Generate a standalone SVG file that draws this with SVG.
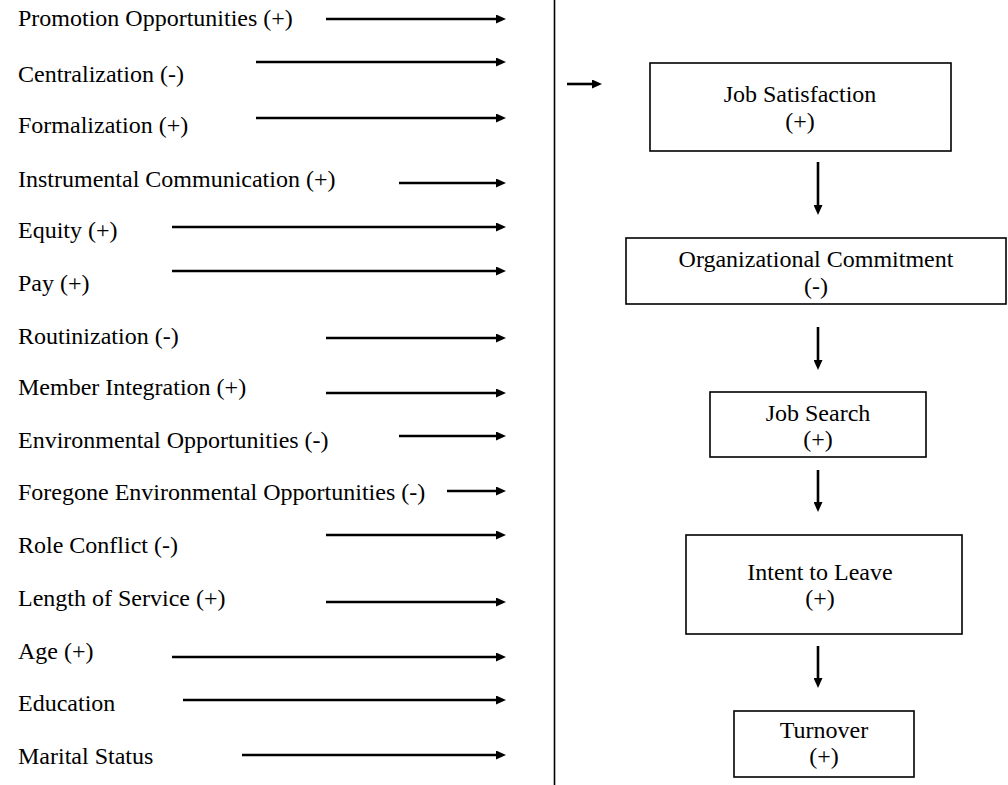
<svg xmlns="http://www.w3.org/2000/svg" width="1008" height="785" viewBox="0 0 1008 785">
<defs>
<style>
text{font-family:"Liberation Serif","Times New Roman",serif;font-size:24px;fill:#000}
.c{text-anchor:middle}
.ln{stroke:#000;stroke-width:2.6;fill:none}
.box{fill:#fff;stroke:#000;stroke-width:1.6}
</style>
<marker id="ah" markerUnits="userSpaceOnUse" viewBox="0 0 10 9" refX="0" refY="4.5" markerWidth="10" markerHeight="9" orient="auto">
<path d="M0,0 L10,4.5 L0,9 z" fill="#000"/>
</marker>
</defs>
<rect width="1008" height="785" fill="#fff"/>
<g id="divider"><line x1="554.5" y1="0" x2="554.5" y2="785" stroke="#000" stroke-width="1.6"/></g>
<g id="factors">
<text x="18" y="26">Promotion Opportunities (+)</text>
<text x="18" y="82">Centralization (-)</text>
<text x="18" y="133">Formalization (+)</text>
<text x="18" y="187">Instrumental Communication (+)</text>
<text x="18" y="238">Equity (+)</text>
<text x="18" y="291">Pay (+)</text>
<text x="18" y="344">Routinization (-)</text>
<text x="18" y="395">Member Integration (+)</text>
<text x="18" y="448">Environmental Opportunities (-)</text>
<text x="18" y="500">Foregone Environmental Opportunities (-)</text>
<text x="18" y="553">Role Conflict (-)</text>
<text x="18" y="606">Length of Service (+)</text>
<text x="18" y="659">Age (+)</text>
<text x="18" y="711">Education</text>
<text x="18" y="764">Marital Status</text>
</g>
<g id="job-satisfaction"><rect class="box" x="650" y="63" width="301" height="88"/><text class="c" x="800" y="102">Job Satisfaction</text><text class="c" x="800" y="129">(+)</text></g>
<g id="organizational-commitment"><rect class="box" x="626" y="238" width="380" height="66"/><text class="c" x="816" y="267">Organizational Commitment</text><text class="c" x="816" y="294">(-)</text></g>
<g id="job-search"><rect class="box" x="710" y="392" width="216" height="65"/><text class="c" x="818" y="421">Job Search</text><text class="c" x="818" y="447">(+)</text></g>
<g id="intent-to-leave"><rect class="box" x="686" y="535" width="276" height="99"/><text class="c" x="820" y="580">Intent to Leave</text><text class="c" x="820" y="606">(+)</text></g>
<g id="turnover"><rect class="box" x="734" y="711" width="180" height="66"/><text class="c" x="824" y="738">Turnover</text><text class="c" x="824" y="764">(+)</text></g>
<g id="connectors" class="ln" marker-end="url(#ah)">
<line x1="326" y1="19" x2="496" y2="19"/>
<line x1="256" y1="62" x2="496" y2="62"/>
<line x1="256" y1="118" x2="496" y2="118"/>
<line x1="399" y1="183" x2="496" y2="183"/>
<line x1="172" y1="227" x2="496" y2="227"/>
<line x1="172" y1="271" x2="496" y2="271"/>
<line x1="326" y1="338" x2="496" y2="338"/>
<line x1="326" y1="393" x2="496" y2="393"/>
<line x1="399" y1="436" x2="496" y2="436"/>
<line x1="447" y1="491" x2="496" y2="491"/>
<line x1="326" y1="535" x2="496" y2="535"/>
<line x1="326" y1="602" x2="496" y2="602"/>
<line x1="172" y1="657" x2="496" y2="657"/>
<line x1="183" y1="700" x2="496" y2="700"/>
<line x1="242" y1="755" x2="496" y2="755"/>
<line x1="567" y1="84" x2="592" y2="84"/>
<line x1="818" y1="162" x2="818" y2="205"/>
<line x1="818" y1="327" x2="818" y2="360"/>
<line x1="818" y1="470" x2="818" y2="502"/>
<line x1="818" y1="646" x2="818" y2="678"/>
</g>
</svg>
